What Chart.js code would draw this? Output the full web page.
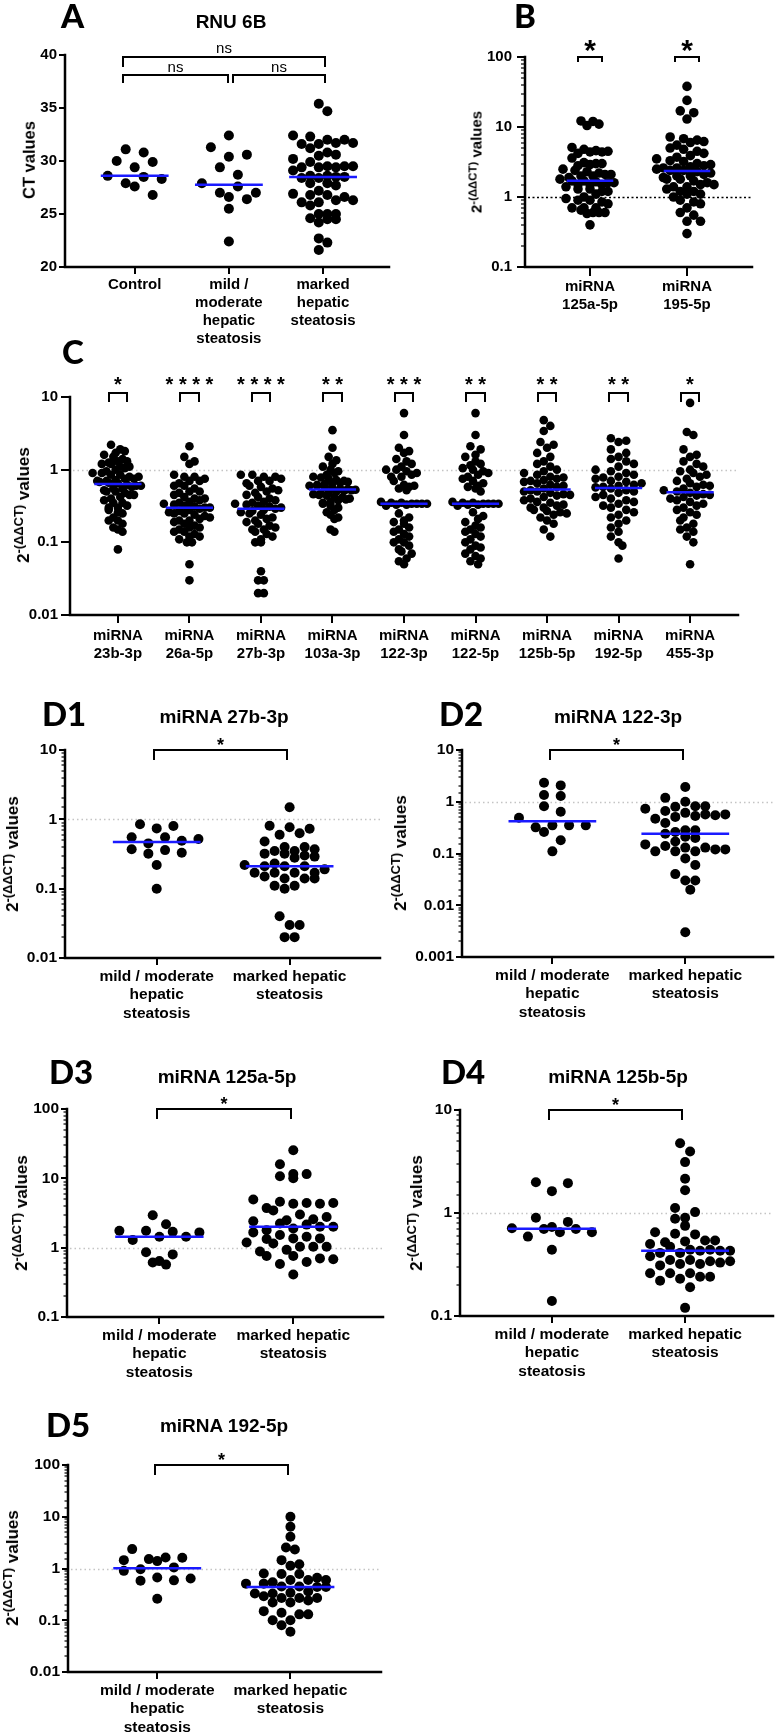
<!DOCTYPE html>
<html lang="en">
<head>
    <meta charset="UTF-8">
    <title>RNU 6B and miRNA expression</title>
    <script src="https://cdn.jsdelivr.net/npm/chart.js"></script>
    <style>
        html, body { margin: 0; padding: 0; background: #fff; overflow: hidden; }
        #page { position: relative; width: 776px; height: 1733px; color: #000;
                font-family: "Liberation Sans", Arial, sans-serif; }
        #page canvas { position: absolute; }
        .panel-label { position: absolute; font-family: Lato, "Liberation Sans", sans-serif; font-weight: 900;
                       font-size: 33px; line-height: 33px; white-space: nowrap; }
        .panel-title { position: absolute; font-weight: 700; font-size: 19px; line-height: 19px;
                       white-space: nowrap; transform: translateX(-50%); }
        .y-title { position: absolute; font-weight: 700; white-space: nowrap;
                   transform: translate(-50%, -50%) rotate(-90deg); }
        .y-title .sup { font-size: 0.76em; position: relative; top: -0.45em; }
    </style>
</head>
<body>
<div id="page"></div>

<script>
    // ---- A: RNU 6B CT values ----
    const aCategories = [['Control'], ['mild /', 'moderate', 'hepatic', 'steatosis'], ['marked', 'hepatic', 'steatosis']];
    const aTickLabels = ['20', '25', '30', '35', '40'];
    const aControl = [31.1, 30.8, 30.0, 29.9, 29.4, 28.6, 28.5, 28.3, 27.9, 27.6, 26.8];
    const aMild = [32.4, 31.3, 30.6, 30.4, 29.4, 28.7, 27.9, 27.6, 27.0, 27.0, 26.6, 26.4, 25.5, 22.4];
    const aMarked = [35.4, 34.7, 32.4, 32.3, 32.0, 32.0, 31.7, 31.6, 31.7, 31.6, 31.2, 30.8, 30.6, 30.5, 30.2,
        29.9, 29.5, 29.4, 29.5, 29.4, 29.5, 29.4, 29.1, 28.6, 28.5, 28.4, 28.5, 28.6, 28.4, 27.9, 27.7, 27.9,
        27.2, 26.8, 26.8, 26.9, 26.3, 26.3, 26.1, 26.6, 26.1, 25.8, 25.0, 25.0, 25.0, 24.2, 24.6, 24.5, 24.5,
        22.7, 22.3, 21.6];

    // ---- B: 2^-(ddCT) ----
    const bCategories = [['miRNA', '125a-5p'], ['miRNA', '195-5p']];
    const bTickLabels = ['0.1', '1', '10', '100'];
    const bStars = ['*', '*'];
    const b125a = [12.2, 12.0, 11.0, 10.5, 5.1, 4.8, 4.6, 4.5, 4.4, 4.4, 4.2, 3.6, 3.1, 3.0, 3.0, 2.9, 2.8,
        2.5, 2.4, 2.3, 2.2, 2.1, 2.1, 2.0, 2.0, 1.9, 1.8, 1.65, 1.7, 1.7, 1.6, 1.6, 1.5, 1.5, 1.5,
        1.4, 1.3, 1.3, 1.2, 1.2, 1.1, 1.0, 0.95, 0.9, 0.9, 0.85, 0.8, 0.7, 0.7, 0.7, 0.65, 0.6, 0.6, 0.6, 0.58, 0.4];
    const b195 = [38, 24, 17, 16, 13, 7.2, 6.8, 6.5, 6.2, 6.0, 5.5, 5.0, 4.8, 4.5, 4.2, 3.9, 3.7, 3.5, 3.3, 3.2,
        3.0, 2.9, 2.8, 2.7, 2.6, 2.6, 2.5, 2.4, 2.4, 2.3, 2.2, 2.1, 2.0, 2.0, 1.9, 1.8, 1.8, 1.7, 1.6, 1.5,
        1.5, 1.4, 1.4, 1.3, 1.2, 1.2, 1.1, 1.1, 1.0, 0.9, 0.85, 0.8, 0.7, 0.6, 0.55, 0.45, 0.45, 0.3];

    // ---- C: nine miRNAs ----
    const cCategories = [['miRNA', '23b-3p'], ['miRNA', '26a-5p'], ['miRNA', '27b-3p'], ['miRNA', '103a-3p'],
        ['miRNA', '122-3p'], ['miRNA', '122-5p'], ['miRNA', '125b-5p'], ['miRNA', '192-5p'], ['miRNA', '455-3p']];
    const cTickLabels = ['0.01', '0.1', '1', '10'];
    const cStars = ['*', '****', '****', '**', '***', '**', '**', '**', '*'];
    const c23b = [2.2, 1.9, 1.8, 1.7, 1.6, 1.5, 1.4, 1.3, 1.3, 1.25, 1.2, 1.2, 1.1, 1.1, 1.05, 1.0, 0.95, 0.9, 0.9,
        0.85, 0.85, 0.8, 0.8, 0.75, 0.75, 0.72, 0.7, 0.7, 0.68, 0.66, 0.65, 0.62, 0.6, 0.6, 0.58, 0.55, 0.55, 0.52,
        0.5, 0.5, 0.48, 0.45, 0.45, 0.42, 0.4, 0.38, 0.35, 0.35, 0.32, 0.3, 0.3, 0.28, 0.26, 0.25, 0.22, 0.2, 0.2,
        0.18, 0.16, 0.15, 0.14, 0.08];
    const c26a = [2.1, 1.5, 1.3, 1.2, 0.85, 0.8, 0.8, 0.75, 0.7, 0.7, 0.65, 0.6, 0.6, 0.55, 0.5, 0.5, 0.48, 0.45,
        0.42, 0.4, 0.4, 0.38, 0.36, 0.35, 0.34, 0.33, 0.32, 0.31, 0.3, 0.3, 0.29, 0.28, 0.27, 0.26, 0.25, 0.25, 0.24,
        0.23, 0.22, 0.21, 0.2, 0.2, 0.19, 0.18, 0.17, 0.16, 0.16, 0.15, 0.14, 0.14, 0.13, 0.12, 0.12, 0.11, 0.1, 0.1,
        0.05, 0.03];
    const c27b = [0.85, 0.85, 0.8, 0.8, 0.75, 0.7, 0.7, 0.65, 0.6, 0.58, 0.55, 0.52, 0.5, 0.48, 0.45, 0.42, 0.4,
        0.38, 0.36, 0.35, 0.34, 0.33, 0.32, 0.31, 0.3, 0.29, 0.28, 0.27, 0.26, 0.25, 0.24, 0.22, 0.21, 0.2, 0.19,
        0.18, 0.17, 0.16, 0.15, 0.15, 0.14, 0.13, 0.12, 0.11, 0.1, 0.1, 0.04, 0.03, 0.03, 0.02, 0.02];
    const c103a = [3.5, 2.0, 1.5, 1.35, 1.2, 1.1, 1.0, 0.95, 0.9, 0.85, 0.8, 0.78, 0.75, 0.72, 0.7, 0.68, 0.66,
        0.65, 0.64, 0.62, 0.6, 0.6, 0.58, 0.56, 0.55, 0.54, 0.53, 0.52, 0.51, 0.5, 0.48, 0.47, 0.46, 0.45, 0.44,
        0.42, 0.41, 0.4, 0.39, 0.38, 0.36, 0.35, 0.34, 0.32, 0.3, 0.28, 0.26, 0.24, 0.22, 0.21, 0.15, 0.14];
    const c122_3 = [6.0, 3.0, 2.0, 1.8, 1.7, 1.4, 1.3, 1.2, 1.1, 1.0, 1.0, 0.95, 0.9, 0.85, 0.8, 0.8, 0.7, 0.62,
        0.6, 0.58, 0.55, 0.52, 0.36, 0.35, 0.35, 0.34, 0.34, 0.34, 0.34, 0.33, 0.33, 0.32, 0.25, 0.22, 0.2, 0.19,
        0.18, 0.16, 0.15, 0.14, 0.13, 0.12, 0.11, 0.1, 0.1, 0.09, 0.08, 0.075, 0.07, 0.06, 0.055, 0.05];
    const c122_5 = [6.0, 3.0, 2.1, 1.9, 1.6, 1.5, 1.3, 1.2, 1.15, 1.05, 1.0, 0.95, 0.9, 0.85, 0.8, 0.75, 0.7, 0.65,
        0.6, 0.58, 0.55, 0.5, 0.36, 0.35, 0.35, 0.34, 0.34, 0.34, 0.34, 0.33, 0.33, 0.32, 0.26, 0.23, 0.21, 0.19,
        0.17, 0.16, 0.15, 0.14, 0.13, 0.12, 0.11, 0.1, 0.09, 0.085, 0.08, 0.07, 0.065, 0.06, 0.055, 0.05];
    const c125b = [4.8, 4.0, 3.4, 2.4, 2.2, 2.0, 1.7, 1.5, 1.3, 1.2, 1.1, 1.0, 0.95, 0.9, 0.85, 0.8, 0.78, 0.75,
        0.72, 0.7, 0.68, 0.65, 0.62, 0.6, 0.58, 0.55, 0.52, 0.5, 0.5, 0.48, 0.46, 0.45, 0.44, 0.42, 0.4, 0.38,
        0.36, 0.35, 0.33, 0.32, 0.3, 0.3, 0.28, 0.27, 0.26, 0.25, 0.24, 0.22, 0.2, 0.18, 0.15, 0.12];
    const c192 = [2.7, 2.5, 2.4, 1.9, 1.7, 1.5, 1.4, 1.3, 1.2, 1.1, 1.0, 0.95, 0.9, 0.85, 0.8, 0.78, 0.75, 0.7,
        0.68, 0.65, 0.62, 0.6, 0.58, 0.57, 0.55, 0.52, 0.5, 0.48, 0.45, 0.42, 0.4, 0.38, 0.36, 0.34, 0.32, 0.3,
        0.28, 0.26, 0.24, 0.22, 0.2, 0.18, 0.16, 0.14, 0.12, 0.1, 0.09, 0.06];
    const c455 = [8.3, 3.3, 3.0, 1.9, 1.6, 1.5, 1.3, 1.2, 1.1, 1.0, 0.95, 0.9, 0.85, 0.8, 0.75, 0.7, 0.65, 0.62,
        0.6, 0.58, 0.55, 0.52, 0.5, 0.48, 0.46, 0.45, 0.44, 0.42, 0.4, 0.38, 0.36, 0.34, 0.32, 0.3, 0.28, 0.26,
        0.24, 0.22, 0.2, 0.18, 0.16, 0.15, 0.14, 0.12, 0.1, 0.05];

    // ---- D1-D5: mild/moderate vs marked steatosis ----
    const dCategories = [['mild / moderate', 'hepatic', 'steatosis'], ['marked hepatic', 'steatosis']];
    const d1TickLabels = ['0.01', '0.1', '1', '10'];
    const d2TickLabels = ['0.001', '0.01', '0.1', '1', '10'];
    const d3TickLabels = ['0.1', '1', '10', '100'];
    const d4TickLabels = ['0.1', '1', '10'];
    const d5TickLabels = ['0.01', '0.1', '1', '10', '100'];

    const d1Mild = [0.85, 0.80, 0.74, 0.55, 0.55, 0.52, 0.49, 0.45, 0.37, 0.36, 0.33, 0.32, 0.22, 0.10];
    const d1Marked = [1.49, 0.81, 0.77, 0.73, 0.63, 0.60, 0.48, 0.40, 0.40, 0.37, 0.35, 0.35, 0.32, 0.32, 0.30,
        0.29, 0.28, 0.23, 0.22, 0.21, 0.21, 0.21, 0.19, 0.17, 0.17, 0.17, 0.17, 0.15, 0.14, 0.14, 0.14, 0.11,
        0.11, 0.10, 0.04, 0.03, 0.03, 0.02, 0.02];
    const d2Mild = [2.33, 2.07, 1.35, 1.29, 0.82, 0.64, 0.49, 0.35, 0.35, 0.35, 0.32, 0.26, 0.18, 0.11];
    const d2Marked = [1.92, 1.19, 1.0, 0.82, 0.82, 0.80, 0.73, 0.66, 0.61, 0.57, 0.57, 0.55, 0.53, 0.51, 0.47,
        0.39, 0.28, 0.28, 0.26, 0.24, 0.21, 0.20, 0.17, 0.15, 0.14, 0.13, 0.13, 0.12, 0.12, 0.11, 0.11, 0.11,
        0.08, 0.06, 0.04, 0.03, 0.03, 0.02, 0.003];
    const d3Mild = [2.93, 2.18, 1.75, 1.75, 1.69, 1.66, 1.44, 1.44, 1.29, 0.86, 0.80, 0.64, 0.61, 0.57];
    const d3Marked = [25.4, 16.0, 11.5, 11.5, 10.7, 10.0, 4.96, 4.6, 4.4, 4.4, 4.3, 4.3, 3.72, 3.45, 3.0, 2.77,
        2.57, 2.48, 2.4, 2.23, 2.15, 2.0, 2.0, 1.89, 1.79, 1.66, 1.52, 1.44, 1.36, 1.36, 1.33, 1.19, 1.15, 1.03,
        1.03, 1.03, 0.93, 0.88, 0.76, 0.76, 0.70, 0.68, 0.62, 0.58, 0.41];
    const d4Mild = [1.99, 1.95, 1.63, 0.90, 0.82, 0.73, 0.71, 0.70, 0.70, 0.65, 0.65, 0.59, 0.44, 0.14];
    const d4Marked = [4.75, 3.95, 3.12, 2.15, 1.66, 1.12, 1.02, 0.90, 0.88, 0.75, 0.65, 0.63, 0.62, 0.54, 0.54,
        0.53, 0.52, 0.50, 0.47, 0.44, 0.44, 0.43, 0.43, 0.43, 0.41, 0.41, 0.38, 0.35, 0.35, 0.34, 0.34, 0.33,
        0.32, 0.32, 0.31, 0.26, 0.26, 0.26, 0.24, 0.24, 0.23, 0.22, 0.19, 0.12];
    const d5Mild = [2.37, 1.63, 1.61, 1.52, 1.45, 1.39, 1.05, 0.97, 0.90, 0.67, 0.64, 0.59, 0.58, 0.26];
    const d5Marked = [9.99, 6.4, 4.1, 2.55, 2.33, 1.45, 1.21, 1.13, 0.80, 0.78, 0.78, 0.66, 0.60, 0.60, 0.60,
        0.54, 0.51, 0.51, 0.45, 0.45, 0.44, 0.44, 0.36, 0.34, 0.33, 0.33, 0.29, 0.27, 0.27, 0.27, 0.24, 0.22,
        0.22, 0.15, 0.14, 0.13, 0.13, 0.10, 0.10, 0.08, 0.06];

    // ---------------------------------------------------------------
    const page = document.getElementById('page');
    const TXT = '"Liberation Sans", Arial, sans-serif';
    const BLUE = '#1a1aff';
    const AXIS_W = 62, AXIS_H = 82, TOP = 40, RIGHT = 3;

    function median(arr) {
        const s = [...arr].sort((a, b) => a - b);
        const n = s.length;
        return n % 2 ? s[(n - 1) / 2] : (s[n / 2 - 1] + s[n / 2]) / 2;
    }

    function isPow10(v) {
        const l = Math.log10(v);
        return Math.abs(l - Math.round(l)) < 1e-9;
    }

    // Prism-like scatter: bin dots into rows one dot high, spread each row sideways
    function rowSwarm(ys, d, sMax, maxHalf) {
        const order = ys.map((_, i) => i).sort((a, b) => ys[a] - ys[b]);
        const rows = [];
        let cur = null;
        order.forEach(i => {
            if (!cur || ys[i] - cur.start >= d) {
                cur = { start: ys[i], items: [] };
                rows.push(cur);
            }
            cur.items.push(i);
        });
        const nMax = Math.max(...rows.map(r => r.items.length));
        const s = nMax > 1 ? Math.min(sMax, 2 * maxHalf / (nMax - 1)) : sMax;
        const out = new Array(ys.length);
        let prev = [];
        rows.forEach(r => {
            const k = r.items.length;
            const seq = [];
            for (let a = 0, b = k - 1; a <= b; a++, b--) {
                seq.push(r.items[a]);
                if (a !== b) seq.push(r.items[b]);
            }
            // pick a half-slot shift that avoids the row above
            let best = 0, bestCost = Infinity;
            [0, s / 2, -s / 2].forEach(shift => {
                let cost = Math.abs(shift) * 0.01;
                seq.forEach((idx, j) => {
                    const x = (j - (k - 1) / 2) * s + shift;
                    prev.forEach(p => {
                        const dd = Math.hypot(p.x - x, p.y - ys[idx]);
                        if (dd < d) cost += d - dd;
                    });
                });
                if (cost < bestCost) { bestCost = cost; best = shift; }
            });
            const cur = [];
            seq.forEach((idx, j) => {
                const x = (j - (k - 1) / 2) * s + best;
                out[idx] = x;
                cur.push({ x, y: ys[idx] });
            });
            prev = cur;
        });
        return out;
    }

    // axis lines + tick marks (major / minor)
    function axisPlugin(p) {
        return {
            id: 'axisTicks',
            afterDraw(chart) {
                const { ctx, chartArea: a } = chart;
                const xs = chart.scales.x, ys = chart.scales.y;
                ctx.save();
                ctx.strokeStyle = '#000';
                ys.ticks.forEach(t => {
                    const major = p.yType !== 'logarithmic' || isPow10(t.value);
                    if (!major && !p.ticks.minor) return;
                    const len = major ? p.ticks.major : p.ticks.minor;
                    const py = Math.round(ys.getPixelForValue(t.value));
                    ctx.lineWidth = major ? 2 : 1.2;
                    ctx.beginPath();
                    ctx.moveTo(a.left - len, py);
                    ctx.lineTo(a.left, py);
                    ctx.stroke();
                });
                ctx.lineWidth = 2;
                xs.ticks.forEach(t => {
                    const px = Math.round(xs.getPixelForValue(t.value));
                    ctx.beginPath();
                    ctx.moveTo(px, a.bottom);
                    ctx.lineTo(px, a.bottom + p.ticks.xlen);
                    ctx.stroke();
                });
                ctx.lineWidth = 2.5;
                ctx.lineCap = 'square';
                ctx.beginPath();
                ctx.moveTo(a.left, a.top);
                ctx.lineTo(a.left, a.bottom);
                ctx.lineTo(a.right, a.bottom);
                ctx.stroke();
                ctx.restore();
            }
        };
    }

    // dotted reference line at y = 1
    function refLinePlugin(p) {
        return {
            id: 'refLine',
            beforeDatasetsDraw(chart) {
                if (!p.refLine) return;
                const { ctx, chartArea: a } = chart;
                const y = Math.round(chart.scales.y.getPixelForValue(1)) + 0.5;
                ctx.save();
                ctx.strokeStyle = p.refLine.color;
                ctx.lineWidth = p.refLine.width;
                ctx.setLineDash(p.refLine.dash);
                ctx.beginPath();
                ctx.moveTo(a.left + 3, y);
                ctx.lineTo(a.right, y);
                ctx.stroke();
                ctx.restore();
            }
        };
    }

    // significance brackets
    function bracketPlugin(p) {
        return {
            id: 'brackets',
            afterDatasetsDraw(chart) {
                const { ctx } = chart;
                const xs = chart.scales.x, ys = chart.scales.y;
                ctx.save();
                ctx.strokeStyle = '#000';
                ctx.fillStyle = '#000';
                ctx.lineWidth = 2;
                p.brackets.forEach(b => {
                    const x1 = Math.round(xs.getPixelForValue(b.from));
                    const x2 = Math.round(xs.getPixelForValue(b.to));
                    const y = Math.round(ys.getPixelForValue(b.y) + (b.shift || 0));
                    ctx.beginPath();
                    ctx.moveTo(x1, y + b.leg);
                    ctx.lineTo(x1, y);
                    ctx.lineTo(x2, y);
                    ctx.lineTo(x2, y + b.leg);
                    ctx.stroke();
                    ctx.font = b.font;
                    ctx.textAlign = 'center';
                    ctx.textBaseline = 'alphabetic';
                    ctx.fillText(b.text, (x1 + x2) / 2, y - b.gap);
                });
                ctx.restore();
            }
        };
    }

    function starBrackets(stars, y, half, leg, font, gap, shift) {
        return stars.map((s, i) => ({
            from: i - half, to: i + half, y, shift, leg, font, gap,
            text: s.split('').join(' ')
        }));
    }

    function addText(cls, html, left, top, extra) {
        const el = document.createElement('div');
        el.className = cls;
        el.innerHTML = html;
        el.style.left = left + 'px';
        el.style.top = top + 'px';
        if (extra) Object.assign(el.style, extra);
        page.appendChild(el);
    }

    function makePanel(p) {
        const w = AXIS_W + (p.plot.r - p.plot.l) + RIGHT;
        const h = TOP + (p.plot.b - p.plot.t) + AXIS_H;
        const canvas = document.createElement('canvas');
        canvas.width = w;
        canvas.height = h;
        canvas.style.left = (p.plot.l - AXIS_W) + 'px';
        canvas.style.top = (p.plot.t - TOP) + 'px';
        canvas.style.width = w + 'px';
        canvas.style.height = h + 'px';
        page.appendChild(canvas);

        const datasets = [];
        p.groups.forEach((vals, i) => {
            const m = median(vals);
            datasets.push({
                data: [{ x: i - p.medHalf, y: m }, { x: i + p.medHalf, y: m }],
                showLine: true, borderColor: BLUE, borderWidth: 2.5, pointRadius: 0, order: 0
            });
            datasets.push({
                data: vals.map(v => ({ x: i, y: v })),
                pointRadius: p.r, pointHoverRadius: p.r, backgroundColor: '#000', borderWidth: 0, order: 1
            });
        });

        const tickFont = { family: TXT, weight: 'bold', size: p.font, lineHeight: 1.2 };
        const chart = new Chart(canvas, {
            type: 'scatter',
            data: { datasets },
            options: {
                responsive: false,
                animation: false,
                devicePixelRatio: 1,
                events: [],
                layout: { padding: { left: 0, top: TOP, right: RIGHT, bottom: 0 }, autoPadding: false },
                plugins: { legend: { display: false }, tooltip: { enabled: false } },
                scales: {
                    x: {
                        type: 'linear', min: p.xMin, max: p.xMax,
                        grid: { display: false, drawTicks: false },
                        border: { display: false },
                        afterBuildTicks: s => { s.ticks = p.categories.map((c, i) => ({ value: i })); },
                        afterFit: s => { s.height = AXIS_H; },
                        ticks: {
                            autoSkip: false, maxRotation: 0, minRotation: 0, padding: p.xPad,
                            color: '#000', font: tickFont,
                            callback: v => p.categories[Math.round(v)]
                        }
                    },
                    y: {
                        type: p.yType, min: p.yMin, max: p.yMax,
                        grid: { display: false, drawTicks: false },
                        border: { display: false },
                        afterFit: s => { s.width = AXIS_W; },
                        ticks: {
                            autoSkip: false, padding: p.yPad, color: '#000', font: tickFont,
                            stepSize: p.yStep,
                            callback: v => {
                                const s = String(Number(Number(v).toPrecision(6)));
                                return p.yLabels.includes(s) ? s : '';
                            }
                        }
                    }
                }
            },
            plugins: [axisPlugin(p), refLinePlugin(p), bracketPlugin(p)]
        });

        // spread dots sideways once the scales exist
        const xs = chart.scales.x, ys = chart.scales.y;
        const unit = (xs.right - xs.left) / (xs.max - xs.min);
        p.groups.forEach((vals, i) => {
            const py = vals.map(v => ys.getPixelForValue(v));
            const off = rowSwarm(py, p.d, p.spread, p.maxHalf);
            chart.data.datasets[2 * i + 1].data = vals.map((v, k) => ({ x: i + off[k] / unit, y: v }));
        });
        chart.update('none');

        // html text: panel letter, title, y axis title
        addText('panel-label', p.label.text, p.label.x, p.label.base - 29);
        if (p.title) addText('panel-title', p.title.text, p.title.cx, p.title.base - 16.1);
        addText('y-title', p.yTitle.html, p.yTitle.cx, p.yTitle.cy,
            { fontSize: p.yTitle.size + 'px', lineHeight: p.yTitle.size + 'px' });
    }

    const DDCT = '2<span class="sup">-(ΔΔCT)</span> values';
    const greyRef = { color: '#c4c4c4', width: 1.5, dash: [1.5, 3] };
    const dStyle = {
        categories: dCategories, yType: 'logarithmic', r: 5, d: 10, spread: 16.7, maxHalf: 40, medHalf: 0.33,
        font: 15.5, xPad: 9, yPad: 8, ticks: { major: 6, minor: 3.5, xlen: 7 }, refLine: greyRef
    };
    function dBracket(yMax) {
        return [{ from: -0.02, to: 0.98, y: yMax, leg: 10, font: 'bold 18px ' + TXT, gap: -1, text: '*' }];
    }

    const panels = [
        {
            label: { text: 'A', x: 61, base: 28 }, title: { text: 'RNU 6B', cx: 231, base: 28 },
            yTitle: { html: 'CT values', cx: 29, cy: 160, size: 16.5 },
            plot: { l: 65, t: 55, r: 389, b: 267 }, xMin: -0.74, xMax: 2.70,
            categories: aCategories, groups: [aControl, aMild, aMarked],
            yType: 'linear', yMin: 20, yMax: 40, yStep: 5, yLabels: aTickLabels,
            r: 5, d: 10, spread: 18, maxHalf: 30, medHalf: 0.36, font: 15, xPad: 9, yPad: 8,
            ticks: { major: 6, minor: 0, xlen: 7 },
            brackets: [
                { from: -0.12, to: 2.02, y: 39.8, leg: 10, font: '15px ' + TXT, gap: 4, text: 'ns' },
                { from: -0.12, to: 0.99, y: 38.1, leg: 8, font: '15px ' + TXT, gap: 3, text: 'ns' },
                { from: 1.04, to: 2.02, y: 38.1, leg: 8, font: '15px ' + TXT, gap: 3, text: 'ns' }
            ]
        },
        {
            label: { text: 'B', x: 514, base: 28 },
            yTitle: { html: DDCT, cx: 477, cy: 162, size: 15 },
            plot: { l: 525, t: 57, r: 752, b: 267 }, xMin: -0.67, xMax: 1.67,
            categories: bCategories, groups: [b125a, b195],
            yType: 'logarithmic', yMin: 0.1, yMax: 100, yLabels: bTickLabels,
            r: 4.8, d: 9.4, spread: 18, maxHalf: 27, medHalf: 0.24, font: 15, xPad: 11, yPad: 13,
            ticks: { major: 8, minor: 4, xlen: 9 },
            refLine: { color: '#000', width: 1.5, dash: [2, 2.5] },
            brackets: starBrackets(bStars, 100, 0.12, 5, 'bold 30px ' + TXT, -3, 0)
        },
        {
            label: { text: 'C', x: 62, base: 364 },
            yTitle: { html: DDCT, cx: 24, cy: 505, size: 17 },
            plot: { l: 70, t: 397, r: 738, b: 615 }, xMin: -0.67, xMax: 8.67,
            categories: cCategories, groups: [c23b, c26a, c27b, c103a, c122_3, c122_5, c125b, c192, c455],
            yType: 'logarithmic', yMin: 0.01, yMax: 10, yLabels: cTickLabels,
            r: 4.3, d: 8.6, spread: 14, maxHalf: 23, medHalf: 0.33, font: 15, xPad: 12, yPad: 12,
            ticks: { major: 9, minor: 0, xlen: 8 }, refLine: greyRef,
            brackets: starBrackets(cStars, 10, 0.13, 9, 'bold 20px ' + TXT, 2.5, -4)
        },
        Object.assign({}, dStyle, {
            label: { text: 'D1', x: 42, base: 726 }, title: { text: 'miRNA 27b-3p', cx: 224, base: 723 },
            yTitle: { html: DDCT, cx: 13, cy: 854, size: 17 },
            plot: { l: 65, t: 750, r: 380, b: 958 }, xMin: -0.69, xMax: 1.68,
            groups: [d1Mild, d1Marked], yMin: 0.01, yMax: 10, yLabels: d1TickLabels, brackets: dBracket(10)
        }),
        Object.assign({}, dStyle, {
            label: { text: 'D2', x: 439, base: 726 }, title: { text: 'miRNA 122-3p', cx: 618, base: 723 },
            yTitle: { html: DDCT, cx: 401, cy: 853, size: 17 },
            plot: { l: 462, t: 750, r: 773, b: 957 }, xMin: -0.68, xMax: 1.66,
            groups: [d2Mild, d2Marked], yMin: 0.001, yMax: 10, yLabels: d2TickLabels, brackets: dBracket(10)
        }),
        Object.assign({}, dStyle, {
            label: { text: 'D3', x: 49, base: 1084 }, title: { text: 'miRNA 125a-5p', cx: 227, base: 1083 },
            yTitle: { html: DDCT, cx: 22, cy: 1213, size: 17 },
            plot: { l: 67, t: 1109, r: 383, b: 1317 }, xMin: -0.69, xMax: 1.67,
            groups: [d3Mild, d3Marked], yMin: 0.1, yMax: 100, yLabels: d3TickLabels, brackets: dBracket(100)
        }),
        Object.assign({}, dStyle, {
            label: { text: 'D4', x: 441, base: 1084 }, title: { text: 'miRNA 125b-5p', cx: 618, base: 1083 },
            yTitle: { html: DDCT, cx: 417, cy: 1213, size: 17 },
            plot: { l: 460, t: 1110, r: 773, b: 1316 }, xMin: -0.69, xMax: 1.66,
            groups: [d4Mild, d4Marked], yMin: 0.1, yMax: 10, yLabels: d4TickLabels, brackets: dBracket(10)
        }),
        Object.assign({}, dStyle, {
            label: { text: 'D5', x: 46, base: 1437 }, title: { text: 'miRNA 192-5p', cx: 224, base: 1432 },
            yTitle: { html: DDCT, cx: 13, cy: 1568, size: 17 },
            plot: { l: 68, t: 1465, r: 381, b: 1672 }, xMin: -0.67, xMax: 1.68,
            groups: [d5Mild, d5Marked], yMin: 0.01, yMax: 100, yLabels: d5TickLabels, brackets: dBracket(100)
        })
    ];

    panels.forEach(makePanel);
</script>
</body>
</html>
